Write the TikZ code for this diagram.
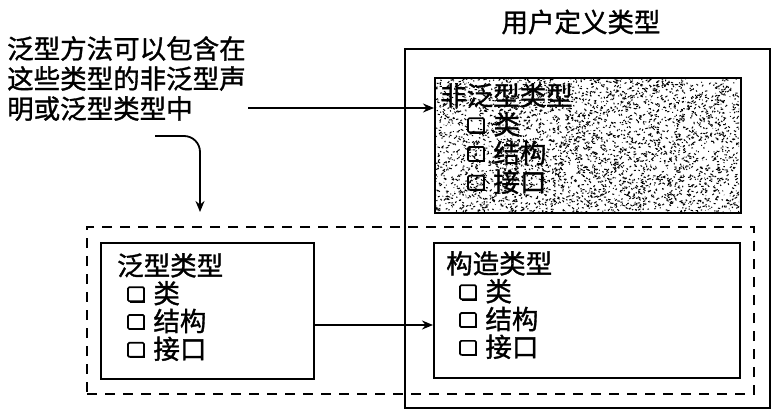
\documentclass[tikz,border=0pt]{standalone}
\usepackage{fontspec}
\setmainfont{Noto Sans CJK SC}[FakeBold=1.2,AutoFakeBold=1.2]
\usetikzlibrary{arrows.meta}
\newcommand{\sqbox}{\tikz[baseline=-2pt]{\draw[line width=1.7pt,rounded corners=1.2pt] (0pt,0pt) rectangle (16pt,14pt);\draw[line width=1.3pt] (1.5pt,-0.7pt) -- (16.7pt,-0.7pt) -- (16.7pt,13pt);}}
\begin{document}
\begin{tikzpicture}[x=1pt,y=-1pt,
  box/.style={draw,line width=2pt,anchor=north west,inner sep=0pt},
  txt/.style={anchor=north west,inner sep=0pt,align=left,font=\fontsize{26.5}{30}\selectfont\bfseries},
  lst/.style={anchor=north west,inner sep=0pt,align=left,font=\fontsize{26.5}{27.8}\selectfont\bfseries},
  arr/.style={line width=1.8pt,-{Stealth[length=11pt,width=9pt]}},
  dsh/.style={draw,line width=2pt,dash pattern=on 10pt off 8pt,anchor=north west,inner sep=0pt}]
\useasboundingbox (0,0) rectangle (779,420);

% title
\node[font=\fontsize{26.5}{30}\selectfont\bfseries,inner sep=0pt] (title) at (581,22) {用户定义类型};

% outer box
\node[box,line width=2.4pt,minimum width=365pt,minimum height=359pt] (outer) at (404,48) {};

% noise box
\node[box,minimum width=306pt,minimum height=135pt] (noise) at (434,77) {};
\begin{scope}
\clip (435,78) rectangle (739,211);
\pgfmathsetseed{7}
\foreach \i in {1,...,3600}{
  \pgfmathsetmacro\xx{434+rnd*306}
  \pgfmathsetmacro\yy{77+rnd*135}
  \pgfmathsetmacro\dx{rand*2.6}
  \pgfmathsetmacro\dy{rand*1.8}
  \draw[line width=1pt] (\xx,\yy) -- ++(\dx,\dy);
}
\end{scope}

% dashed box
\node[dsh,minimum width=667pt,minimum height=167pt] (dash) at (86,226) {};

% generic box
\node[box,minimum width=213pt,minimum height=136pt] (gen) at (100,242) {};
% constructed box
\node[box,minimum width=306pt,minimum height=135pt] (cons) at (433,242) {};

% texts
\node[txt] (note) at (7,36) {泛型方法可以包含在\\这些类型的非泛型声\\明或泛型类型中};

\node[lst,font=\fontsize{26.5}{28.8}\selectfont\bfseries] (ntext) at (440,83) {非泛型类型\\\hspace{27pt}\sqbox\hspace{8pt}类\\\hspace{27pt}\sqbox\hspace{8pt}结构\\\hspace{27pt}\sqbox\hspace{8pt}接口};
\node[lst] (gtext) at (117,253) {泛型类型\\\hspace{10pt}\sqbox\hspace{8pt}类\\\hspace{10pt}\sqbox\hspace{8pt}结构\\\hspace{10pt}\sqbox\hspace{8pt}接口};
\node[lst] (ctext) at (446,251) {构造类型\\\hspace{13pt}\sqbox\hspace{8pt}类\\\hspace{13pt}\sqbox\hspace{8pt}结构\\\hspace{13pt}\sqbox\hspace{8pt}接口};

% arrows
\coordinate (a1) at (248,108);
\draw[arr] (a1) -- (noise.west |- a1);
\coordinate (c1) at (155,136);
\coordinate (c2) at (200,212);
\draw[arr,rounded corners=16pt] (c1) -| (c2);
\coordinate (y325) at (0,325);
\draw[arr] (gen.east |- y325) -- (cons.west |- y325);
\end{tikzpicture}
\end{document}
